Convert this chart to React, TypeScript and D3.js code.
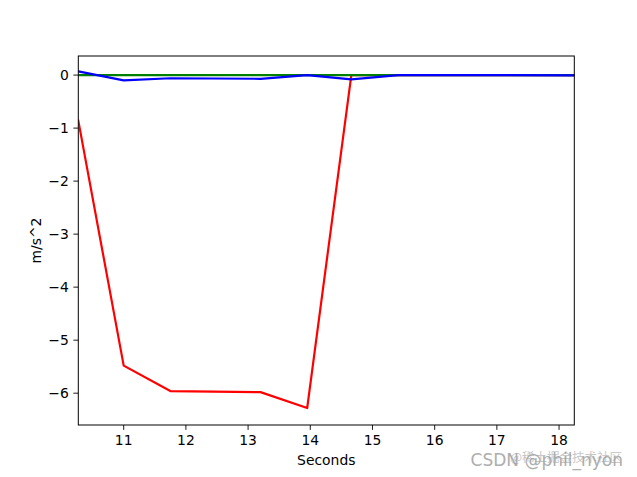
import React from "react";
import * as d3 from "d3";

const times = [10.27, 11.0, 11.75, 13.2, 13.95, 14.66, 15.42, 16.8, 18.25];
const redValues = [-0.86, -5.48, -5.96, -5.98, -6.28, 0.0, 0.0, 0.0, 0.0];
const greenValues = [0.0, 0.0, 0.0, 0.0, 0.0, 0.0, 0.0, 0.0, 0.0];
const blueValues = [0.07, -0.1, -0.06, -0.07, 0.0, -0.08, 0.0, 0.0, -0.005];
const xTicks = [11, 12, 13, 14, 15, 16, 17, 18];
const yTicks = [0, -1, -2, -3, -4, -5, -6];

const W = 637, H = 477;
const L = 78.3, R = 574.3, T = 56, B = 425;

export default function App() {
  const x = d3.scaleLinear().domain([10.27, 18.245]).range([L, R]);
  const y = d3.scaleLinear().domain([0.36, -6.6]).range([T, B]);
  const line = (vals: number[]) =>
    d3.line<number>().x((_, i) => x(times[i])).y((d) => y(d))(vals) || "";
  const font = "DejaVu Sans, sans-serif";
  const fmt = (v: number) => (v < 0 ? "\u2212" + Math.abs(v) : String(v));
  return (
    <svg width={W} height={H} style={{ position: "absolute", left: 0, top: 0, background: "#fff" }}>
      <defs>
        <clipPath id="plot">
          <rect x={L} y={T} width={R - L} height={B - T} />
        </clipPath>
      </defs>
      <rect x={0} y={0} width={W} height={H} fill="#fff" />
      <g clipPath="url(#plot)" fill="none" strokeWidth={2.2} strokeLinejoin="round" strokeLinecap="square">
        <path d={line(redValues)} stroke="#ff0000" />
        <path d={line(greenValues)} stroke="#008000" />
        <path d={line(blueValues)} stroke="#0000ff" />
      </g>
      <rect x={L} y={T} width={R - L} height={B - T} fill="none" stroke="#000" strokeWidth={1} />
      {xTicks.map((t) => (
        <g key={"x" + t}>
          <line x1={x(t)} x2={x(t)} y1={B} y2={B + 4.9} stroke="#000" strokeWidth={0.9} />
          <text x={x(t)} y={B + 20} textAnchor="middle" fontFamily={font} fontSize={13.9} fill="#000">
            {fmt(t)}
          </text>
        </g>
      ))}
      {yTicks.map((t) => (
        <g key={"y" + t}>
          <line x1={L - 4.9} x2={L} y1={y(t)} y2={y(t)} stroke="#000" strokeWidth={0.9} />
          <text x={L - 9.5} y={y(t) + 5} textAnchor="end" fontFamily={font} fontSize={13.9} fill="#000">
            {fmt(t)}
          </text>
        </g>
      ))}
      <text x={(L + R) / 2} y={465} textAnchor="middle" fontFamily={font} fontSize={13.9} fill="#000">
        Seconds
      </text>
      <text
        transform={`translate(41,${(T + B) / 2}) rotate(-90)`}
        textAnchor="middle"
        fontFamily={font}
        fontSize={13.9}
        fill="#000"
      >
        m/s^2
      </text>
      <text x={622} y={462} textAnchor="end" fontFamily="Noto Sans CJK SC, sans-serif" fontSize={12.5} fill="#bbb" opacity={0.8}>
        @稀土掘金技术社区
      </text>
      <text x={623} y={466} textAnchor="end" fontFamily="DejaVu Sans, sans-serif" fontSize={17} fill="#a0a0a0" opacity={0.85}>
        CSDN @phil_nyon
      </text>
    </svg>
  );
}
